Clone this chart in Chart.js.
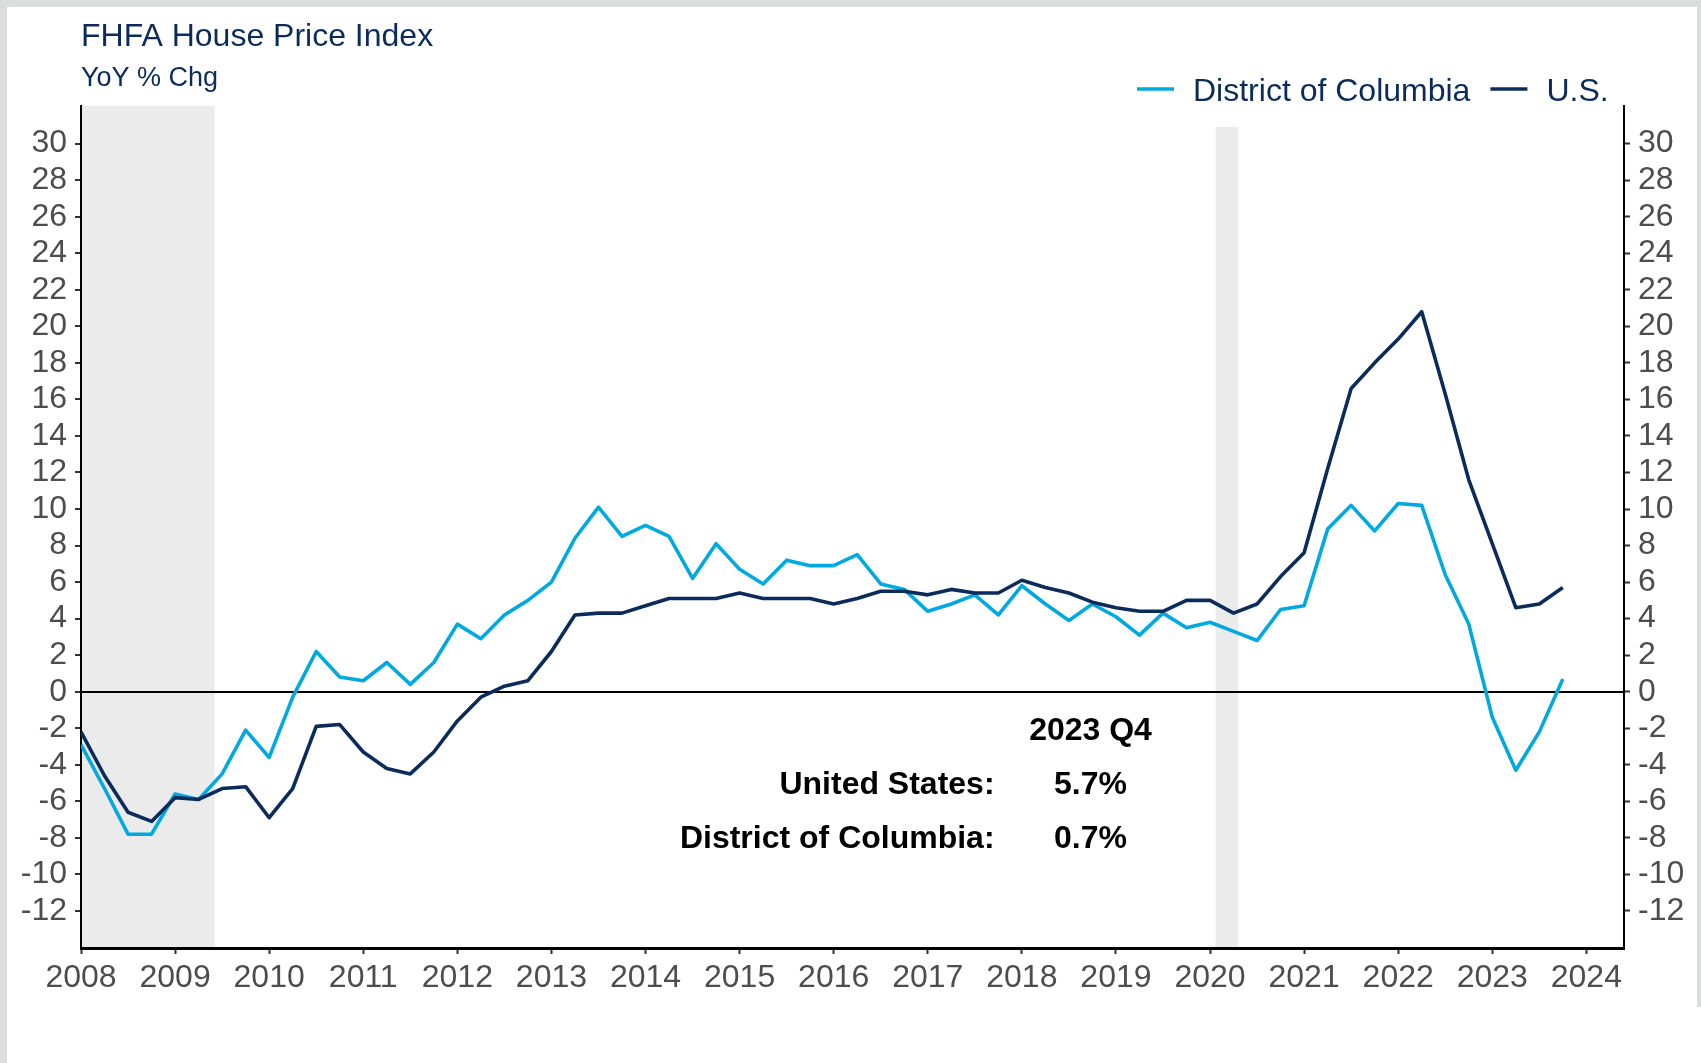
<!DOCTYPE html>
<html>
<head>
<meta charset="utf-8">
<script src="https://cdn.jsdelivr.net/npm/chart.js@4.4.1/dist/chart.umd.min.js"></script>
<style>
html,body{margin:0;padding:0;}
body{width:1701px;height:1063px;background:#d9dedd;position:relative;overflow:hidden;}
#frame{position:absolute;left:7px;top:7px;width:1690px;height:1000px;background:#fff;}
#foot{position:absolute;left:7px;top:1007px;width:1694px;height:56px;background:#fff;}
canvas{position:absolute;left:0;top:0;}
</style>
</head>
<body>
<div id="frame"></div><div id="foot"></div>
<canvas id="c" width="1701" height="1063"></canvas>
<script>
const quarters = [
 '2008 Q1','2008 Q2','2008 Q3','2008 Q4','2009 Q1','2009 Q2','2009 Q3','2009 Q4',
 '2010 Q1','2010 Q2','2010 Q3','2010 Q4','2011 Q1','2011 Q2','2011 Q3','2011 Q4',
 '2012 Q1','2012 Q2','2012 Q3','2012 Q4','2013 Q1','2013 Q2','2013 Q3','2013 Q4',
 '2014 Q1','2014 Q2','2014 Q3','2014 Q4','2015 Q1','2015 Q2','2015 Q3','2015 Q4',
 '2016 Q1','2016 Q2','2016 Q3','2016 Q4','2017 Q1','2017 Q2','2017 Q3','2017 Q4',
 '2018 Q1','2018 Q2','2018 Q3','2018 Q4','2019 Q1','2019 Q2','2019 Q3','2019 Q4',
 '2020 Q1','2020 Q2','2020 Q3','2020 Q4','2021 Q1','2021 Q2','2021 Q3','2021 Q4',
 '2022 Q1','2022 Q2','2022 Q3','2022 Q4','2023 Q1','2023 Q2','2023 Q3','2023 Q4'
];
const dcValues = [
 -2.9,-5.3,-7.8,-7.8, -5.6,-5.9,-4.5,-2.1,
 -3.6,-0.3,2.2,0.8, 0.6,1.6,0.4,1.6,
 3.7,2.9,4.2,5.0, 6.0,8.4,10.1,8.5,
 9.1,8.5,6.2,8.1, 6.7,5.9,7.2,6.9,
 6.9,7.5,5.9,5.6, 4.4,4.8,5.3,4.2,
 5.8,4.8,3.9,4.8, 4.1,3.1,4.3,3.5,
 3.8,3.3,2.8,4.5, 4.7,8.9,10.2,8.8,
 10.3,10.2,6.4,3.7, -1.4,-4.3,-2.2,0.7
];
const usValues = [
 -2.2,-4.6,-6.6,-7.1, -5.8,-5.9,-5.3,-5.2,
 -6.9,-5.3,-1.9,-1.8, -3.3,-4.2,-4.5,-3.3,
 -1.6,-0.3,0.3,0.6, 2.2,4.2,4.3,4.3,
 4.7,5.1,5.1,5.1, 5.4,5.1,5.1,5.1,
 4.8,5.1,5.5,5.5, 5.3,5.6,5.4,5.4,
 6.1,5.7,5.4,4.9, 4.6,4.4,4.4,5.0,
 5.0,4.3,4.8,6.3, 7.6,12.2,16.6,18.0,
 19.3,20.8,16.3,11.6, 8.1,4.6,4.8,5.7
];
const xTickYears = [2008,2009,2010,2011,2012,2013,2014,2015,2016,2017,2018,2019,2020,2021,2022,2023,2024];
const yTickValues = [-12,-10,-8,-6,-4,-2,0,2,4,6,8,10,12,14,16,18,20,22,24,26,28,30];
const recessionStart = [2007.92, 2020.06];
const recessionEnd = [2009.42, 2020.30];
const seriesNames = ['District of Columbia', 'U.S.'];
const titleText = 'FHFA House Price Index';
const subtitleText = 'YoY % Chg';
const annotHeader = '2023 Q4';
const annotLabels = ['United States:', 'District of Columbia:'];

const FONT = "'Liberation Sans', Arial, Helvetica, sans-serif";
const NAVY = '#0b2c5b';
const BLUE = '#00a9e0';
const TICKC = '#4d4d4d';

function qToX(label){ const p = label.split(' Q'); return +p[0] + (+p[1]-1)/4; }
const fmt = v => String(v);

const decor = {
  id: 'decor',
  beforeDraw(chart){
    const {ctx, chartArea:a, scales:{x}} = chart;
    ctx.save();
    ctx.fillStyle = '#ebebeb';
    for (let i=0;i<recessionStart.length;i++){
      const x0 = Math.max(a.left, x.getPixelForValue(recessionStart[i]));
      const x1 = Math.min(a.right, x.getPixelForValue(recessionEnd[i]));
      ctx.fillRect(x0, a.top, x1-x0, a.bottom-a.top);
    }
    ctx.fillStyle = '#fff';
    ctx.fillRect(1120, 50, 495, 77);
    ctx.restore();
  },
  afterDraw(chart){
    const {ctx, scales:{x,y}} = chart;
    ctx.save();
    ctx.textBaseline = 'alphabetic';
    ctx.textAlign = 'left';
    ctx.fillStyle = NAVY;
    ctx.font = '32px ' + FONT;
    ctx.fillText(titleText, 81, 46);
    ctx.font = '27px ' + FONT;
    ctx.fillText(subtitleText, 81, 86);
    // legend
    ctx.font = '32px ' + FONT;
    const colors = [BLUE, NAVY];
    let lx = 1137;
    for (let i=0;i<seriesNames.length;i++){
      ctx.strokeStyle = colors[i];
      ctx.lineWidth = 3.5;
      ctx.beginPath(); ctx.moveTo(lx, 89); ctx.lineTo(lx+37, 89); ctx.stroke();
      lx += 37 + 19;
      ctx.fillStyle = NAVY;
      ctx.fillText(seriesNames[i], lx, 101);
      lx += ctx.measureText(seriesNames[i]).width + 20;
    }
    // annotation
    ctx.fillStyle = '#000';
    ctx.font = 'bold 32px ' + FONT;
    const cx = x.getPixelForValue(2018.73);
    const rx = x.getPixelForValue(2017.71);
    ctx.textAlign = 'center';
    ctx.fillText(annotHeader, cx, y.getPixelForValue(-2.64));
    const lastVals = [usValues[usValues.length-1], dcValues[dcValues.length-1]];
    const rows = [-5.6, -8.55];
    for (let i=0;i<annotLabels.length;i++){
      const py = y.getPixelForValue(rows[i]);
      ctx.textAlign = 'right';
      ctx.fillText(annotLabels[i], rx, py);
      ctx.textAlign = 'center';
      ctx.fillText(lastVals[i].toFixed(1) + '%', cx, py);
    }
    ctx.restore();
  }
};

new Chart(document.getElementById('c'), {
  type: 'line',
  data: {
    datasets: [
      { label: seriesNames[0], data: quarters.map((q,i)=>({x:qToX(q), y:dcValues[i]})),
        borderColor: BLUE, borderWidth: 3.6, pointRadius: 0, tension: 0, fill: false,
        borderJoinStyle: 'round', order: 1, yAxisID: 'y' },
      { label: seriesNames[1], data: quarters.map((q,i)=>({x:qToX(q), y:usValues[i]})),
        borderColor: NAVY, borderWidth: 3.6, pointRadius: 0, tension: 0, fill: false,
        borderJoinStyle: 'round', order: 0, yAxisID: 'y' }
    ]
  },
  options: {
    responsive: false, animation: false, devicePixelRatio: 1,
    layout: { padding: { top: 106, left: 0, right: 0, bottom: 0 } },
    plugins: { legend: { display: false }, tooltip: { enabled: false }, title: { display: false } },
    scales: {
      x: {
        type: 'linear', position: 'bottom', min: 2008, max: 2024.4,
        afterBuildTicks: s => { s.ticks = xTickYears.map(v => ({value: v})); },
        afterFit: s => { s.height = 115; },
        ticks: { autoSkip: false, maxRotation: 0, minRotation: 0, color: TICKC,
                 font: { family: FONT, size: 32 }, padding: 5, callback: fmt },
        grid: { drawOnChartArea: false, tickLength: 6, tickWidth: 2, tickColor: '#333' },
        border: { color: '#000', width: 3 }
      },
      y: {
        type: 'linear', position: 'left', min: -14.03, max: 32.06,
        afterBuildTicks: s => { s.ticks = yTickValues.map(v => ({value: v})); },
        afterFit: s => { s.width = 81; },
        ticks: { autoSkip: false, color: TICKC, font: { family: FONT, size: 32 }, padding: 8, callback: fmt },
        grid: { drawOnChartArea: true, lineWidth: 2,
                color: c => (c.tick && c.tick.value === 0) ? '#000' : 'rgba(0,0,0,0)',
                tickLength: 6, tickWidth: 2, tickColor: '#333' },
        border: { color: '#000', width: 2 }
      },
      y2: {
        type: 'linear', position: 'right', min: -14.03, max: 32.06,
        afterBuildTicks: s => { s.ticks = yTickValues.map(v => ({value: v})); },
        afterFit: s => { s.width = 77; },
        ticks: { autoSkip: false, color: TICKC, font: { family: FONT, size: 32 }, padding: 8, callback: fmt },
        grid: { drawOnChartArea: false, tickLength: 6, tickWidth: 2, tickColor: '#333' },
        border: { color: '#000', width: 2 }
      }
    }
  },
  plugins: [decor]
});
</script>
</body>
</html>
